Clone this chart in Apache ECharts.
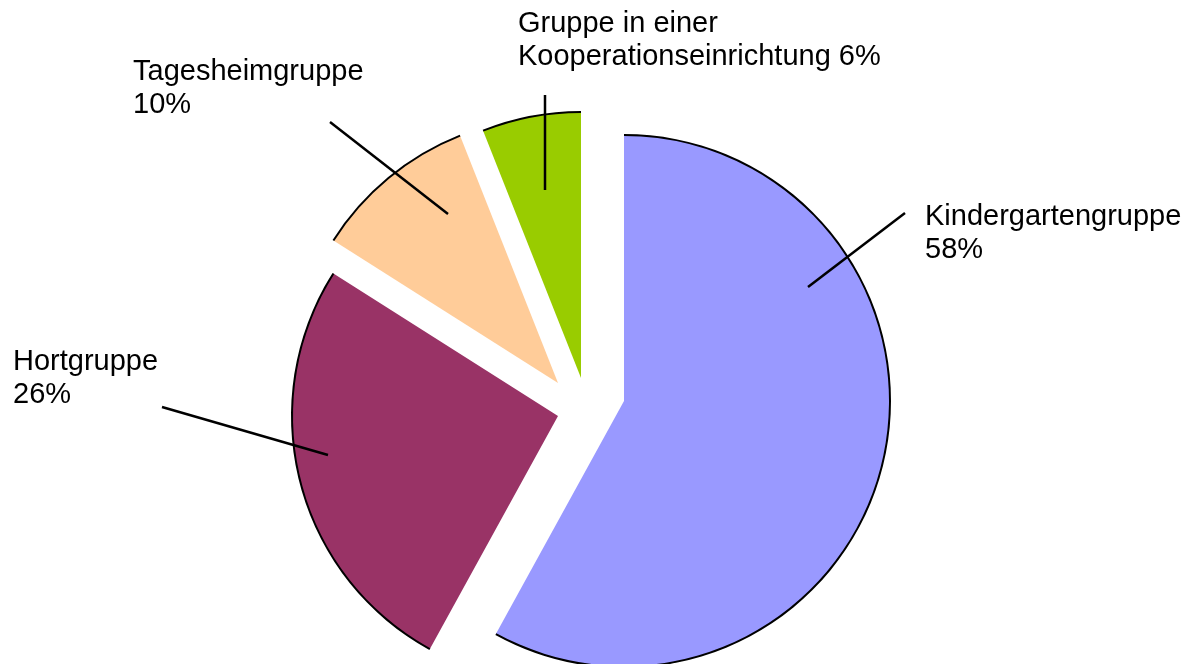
<!DOCTYPE html>
<html>
<head>
<meta charset="utf-8">
<title>Gruppen</title>
<script src="https://cdn.jsdelivr.net/npm/echarts@6/dist/echarts.min.js"></script>
<style>
  html, body { margin: 0; padding: 0; background: #fff; }
  #echarts { width: 1194px; height: 664px; }
</style>
</head>
<body>
<div id="echarts"></div>
<script>
// Daten
var groupNames = ['Kindergartengruppe', 'Hortgruppe', 'Tagesheimgruppe', 'Gruppe in einer\nKooperationseinrichtung'];
var groupShares = [58, 26, 10, 6];

// Farben und Layout (jedes Segment ist einzeln herausgezogen)
var sliceColors = ['#9999FF', '#993366', '#FFCC99', '#99CC00'];
var sliceTips = [[624, 401], [558, 416], [558, 383], [581, 378]];
var labelBoxes = [[925, 200], [13, 345], [133, 55], [518, 7]];
var leaderLines = [
    [[808, 287], [905, 213]],
    [[328, 455], [162, 407]],
    [[448, 214], [330, 122]],
    [[545, 190], [545, 95]]
];
var pctSeparator = ['\n', '\n', '\n', ' '];
var pieRadius = 266;

var chart = echarts.init(document.getElementById('echarts'));

// Ein Pie pro Segment: nur das eigene Stück ist sichtbar, die anderen transparent
function sliceSeries(i) {
    return {
        type: 'pie',
        z: 2,
        center: sliceTips[i],
        radius: [0, pieRadius],
        startAngle: 90,
        clockwise: true,
        silent: true,
        emphasis: { disabled: true },
        label: { show: false },
        labelLine: { show: false },
        data: groupShares.map(function (v, j) {
            return {
                value: v,
                name: groupNames[j],
                itemStyle: { color: j === i ? sliceColors[i] : 'transparent' }
            };
        })
    };
}

// Schwarzer Rand nur am äusseren Bogen, trägt auch Beschriftung und Führungslinie
function arcSeries(i) {
    return {
        type: 'pie',
        z: 5,
        center: sliceTips[i],
        radius: [pieRadius - 1, pieRadius + 1],
        startAngle: 90,
        clockwise: true,
        avoidLabelOverlap: false,
        silent: true,
        emphasis: { disabled: true },
        label: {
            position: 'outside',
            color: '#000',
            fontFamily: 'Liberation Sans, Arial, sans-serif',
            fontSize: 29,
            lineHeight: 33,
            formatter: function (p) {
                return p.name + pctSeparator[p.dataIndex] + Math.round(p.percent) + '%';
            }
        },
        labelLine: {
            smooth: false,
            showAbove: true,
            lineStyle: { color: '#000', width: 2.5 }
        },
        labelLayout: function (p) {
            var d = p.dataIndex;
            return {
                x: labelBoxes[d][0],
                y: labelBoxes[d][1],
                align: 'left',
                verticalAlign: 'top',
                labelLinePoints: leaderLines[d]
            };
        },
        data: groupShares.map(function (v, j) {
            return {
                value: v,
                name: groupNames[j],
                itemStyle: { color: j === i ? '#000' : 'transparent' },
                label: { show: j === i },
                labelLine: { show: j === i }
            };
        })
    };
}

var series = [];
for (var i = 0; i < groupShares.length; i++) {
    series.push(sliceSeries(i));
}
for (var k = 0; k < groupShares.length; k++) {
    series.push(arcSeries(k));
}

chart.setOption({
    backgroundColor: '#fff',
    animation: false,
    series: series
});
</script>
</body>
</html>
